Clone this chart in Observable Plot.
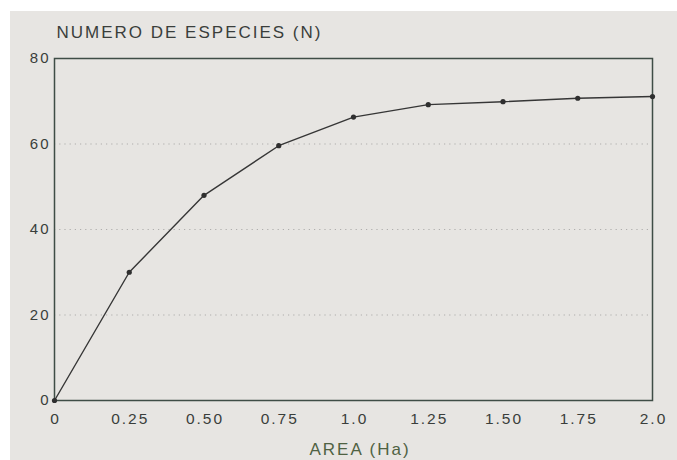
<!DOCTYPE html>
<html>
<head>
<meta charset="utf-8">
<script src="https://cdn.jsdelivr.net/npm/d3@7"></script>
<script src="https://cdn.jsdelivr.net/npm/@observablehq/plot@0.6"></script>
<style>
  html, body { margin: 0; padding: 0; background: #ffffff; }
  #wrap { position: absolute; left: 10px; top: 11px; width: 667px; height: 449px; background: #e7e5e2; }
  #wrap svg { display: block; }
</style>
</head>
<body>
<div id="wrap"></div>
<script>
const areas = [0, 0.25, 0.5, 0.75, 1.0, 1.25, 1.5, 1.75, 2.0];
const species = [0, 30, 48, 59.6, 66.3, 69.2, 69.9, 70.7, 71.1];
const xTicks = [0, 0.25, 0.5, 0.75, 1.0, 1.25, 1.5, 1.75, 2.0];
const xTickLabels = ["0", "0.25", "0.50", "0.75", "1.0", "1.25", "1.50", "1.75", "2.0"];
const yTicks = [0, 20, 40, 60, 80];
const gridValues = [20, 40, 60];
const yTitle = "NUMERO DE ESPECIES (N)";
const xTitle = "AREA (Ha)";

const data = areas.map((a, i) => ({area: a, n: species[i]}));
const textColor = "#3a3e3b";

const chart = Plot.plot({
  width: 667,
  height: 449,
  marginLeft: 44,
  marginTop: 47,
  marginRight: 25,
  marginBottom: 60,
  style: {background: "transparent", fontFamily: "'Liberation Sans', Arial, sans-serif", color: textColor},
  x: {domain: [0, 2], label: null},
  y: {domain: [0, 80], label: null},
  marks: [
    Plot.ruleY(gridValues, {stroke: "#777", strokeOpacity: 0.5, strokeDasharray: "1.2,4"}),
    Plot.frame({stroke: "#3f4d46", strokeWidth: 1.5}),
    Plot.axisX(xTicks, {
      tickSize: 0, tickPadding: 12, fontSize: 15.5, dx: 1,
      tickFormat: (d) => xTickLabels[xTicks.indexOf(d)],
      fill: textColor
    }),
    Plot.axisY(yTicks, {
      tickSize: 0, tickPadding: 4, fontSize: 15,
      fill: textColor
    }),
    Plot.line(data, {x: "area", y: "n", stroke: "#363636", strokeWidth: 1.4}),
    Plot.dot(data, {x: "area", y: "n", r: 2.6, fill: "#2f2f2f", stroke: null}),
    Plot.text([yTitle], {
      frameAnchor: "top-left", lineAnchor: "middle", textAnchor: "start", dx: 2, dy: -26,
      fontSize: 17, fill: textColor
    }),
    Plot.text([xTitle], {
      frameAnchor: "bottom", lineAnchor: "middle", dx: 6.5, dy: 49,
      fontSize: 17, fill: "#4f6243"
    })
  ]
});
const svg = d3.select(chart);
svg.selectAll('g[aria-label="x-axis tick label"] text').style("letter-spacing", "2px").style("font-size", "15.5px");
svg.selectAll('g[aria-label="y-axis tick label"] text').style("letter-spacing", "2px").style("font-size", "15px");
svg.selectAll('g[aria-label="text"] text').style("letter-spacing", "2px").style("font-size", "17px");
document.getElementById("wrap").appendChild(chart);
</script>
</body>
</html>
